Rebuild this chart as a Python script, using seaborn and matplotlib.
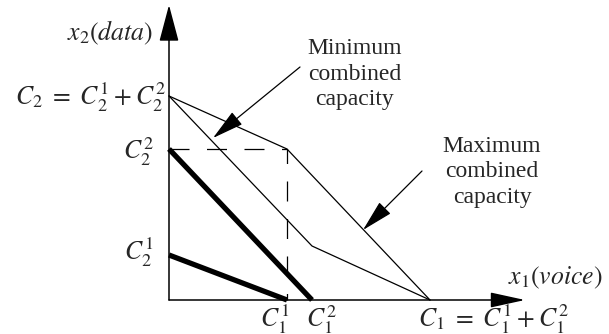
import matplotlib
matplotlib.use("Agg")
import matplotlib.pyplot as plt
import seaborn as sns
import pandas as pd

sns.set_style("white")
plt.rcParams["font.family"] = ["Liberation Serif", "DejaVu Serif"]
plt.rcParams["mathtext.fontset"] = "stix"

# Capacities of the two cells (voice on x, data on y)
c1_1 = 1.18          # C_1^1
c1_2 = 1.43          # C_1^2
c1 = c1_1 + c1_2     # C_1
c2_1 = 0.45          # C_2^1
c2_2 = 1.51          # C_2^2
c2 = 2.04            # C_2
min_knee = 0.54      # data capacity at the knee of the minimum region

# Boundaries of the combined capacity regions
max_x = [0.0, c1_1, c1]
max_y = [c2, c2_2, 0.0]
min_x = [0.0, c1_2, c1]
min_y = [c2, min_knee, 0.0]

# Single-cell capacity lines
cell1_x = [0.0, c1_1]
cell1_y = [c2_1, 0.0]
cell2_x = [0.0, c1_2]
cell2_y = [c2_2, 0.0]

fig = plt.figure(figsize=(6.09, 3.34), dpi=100)
ax = fig.add_axes([0, 0, 1, 1])
ax.set_xlim(-1.69, 4.40)
ax.set_ylim(-0.34, 3.00)
ax.axis("off")

def poly(xs, ys, **kw):
    df = pd.DataFrame({"x": xs, "y": ys})
    sns.lineplot(data=df, x="x", y="y", estimator=None, sort=False,
                 ax=ax, color="black", **kw)

poly(max_x, max_y, lw=0.9)
poly(min_x, min_y, lw=0.9)
poly(cell1_x, cell1_y, lw=3.8, solid_capstyle="butt")
poly(cell2_x, cell2_y, lw=3.8, solid_capstyle="butt")
poly([0.0, c1_1, c1_1], [c2_2, c2_2, 0.0], lw=0.9, ls=(0, (16, 14)))

# Axes with filled arrow heads
ax.annotate("", xy=(0, 2.95), xytext=(0, 0),
            arrowprops=dict(arrowstyle="-|>,head_length=2.3,head_width=0.61",
                            mutation_scale=10, lw=1.1, color="black",
                            shrinkA=0, shrinkB=0))
ax.annotate("", xy=(3.56, 0), xytext=(0, 0),
            arrowprops=dict(arrowstyle="-|>,head_length=2.15,head_width=0.47",
                            mutation_scale=10, lw=1.1, color="black",
                            shrinkA=0, shrinkB=0))

fs = 17
mfs = 18.5
ax.text(-0.16, 2.67, r"$x_2(data)$", ha="right", va="center", fontsize=mfs)
ax.text(3.39, 0.22, r"$x_1(voice)$", ha="left", va="center", fontsize=mfs)

# Axis value labels
off = dict(textcoords="offset points", fontsize=mfs)
ax.annotate(r"$C_2\ =\ C_2^1 + C_2^2$", xy=(0, c2), xytext=(-2, -1),
            ha="right", va="center", **off)
ax.annotate(r"$C_2^2$", xy=(0, c2_2), xytext=(-11, -2),
            ha="right", va="center", **off)
ax.annotate(r"$C_2^1$", xy=(0, c2_1), xytext=(-11, 2),
            ha="right", va="center", **off)
ax.annotate(r"$C_1^1$", xy=(c1_1, 0), xytext=(-9, -2),
            ha="center", va="top", **off)
ax.annotate(r"$C_1^2$", xy=(c1_2, 0), xytext=(7, -2),
            ha="center", va="top", **off)
ax.annotate(r"$C_1\ =\ C_1^1 + C_1^2$", xy=(c1, 0), xytext=(-9, -2),
            ha="left", va="top", **off)

# Callouts
ax.text(1.86, 2.26, "Minimum\ncombined\ncapacity", ha="center", va="center",
        fontsize=fs, linespacing=1.3)
ax.text(3.23, 1.28, "Maximum\ncombined\ncapacity", ha="center", va="center",
        fontsize=fs, linespacing=1.3)
head = dict(arrowstyle="-|>,head_length=2.0,head_width=0.5",
            mutation_scale=10, lw=0.9, color="black", shrinkA=0, shrinkB=0)
ax.annotate("", xy=(0.44, 1.62), xytext=(1.31, 2.33), arrowprops=head)
ax.annotate("", xy=(1.94, 0.70), xytext=(2.53, 1.29), arrowprops=head)

fig.savefig("out.png", dpi=100)
